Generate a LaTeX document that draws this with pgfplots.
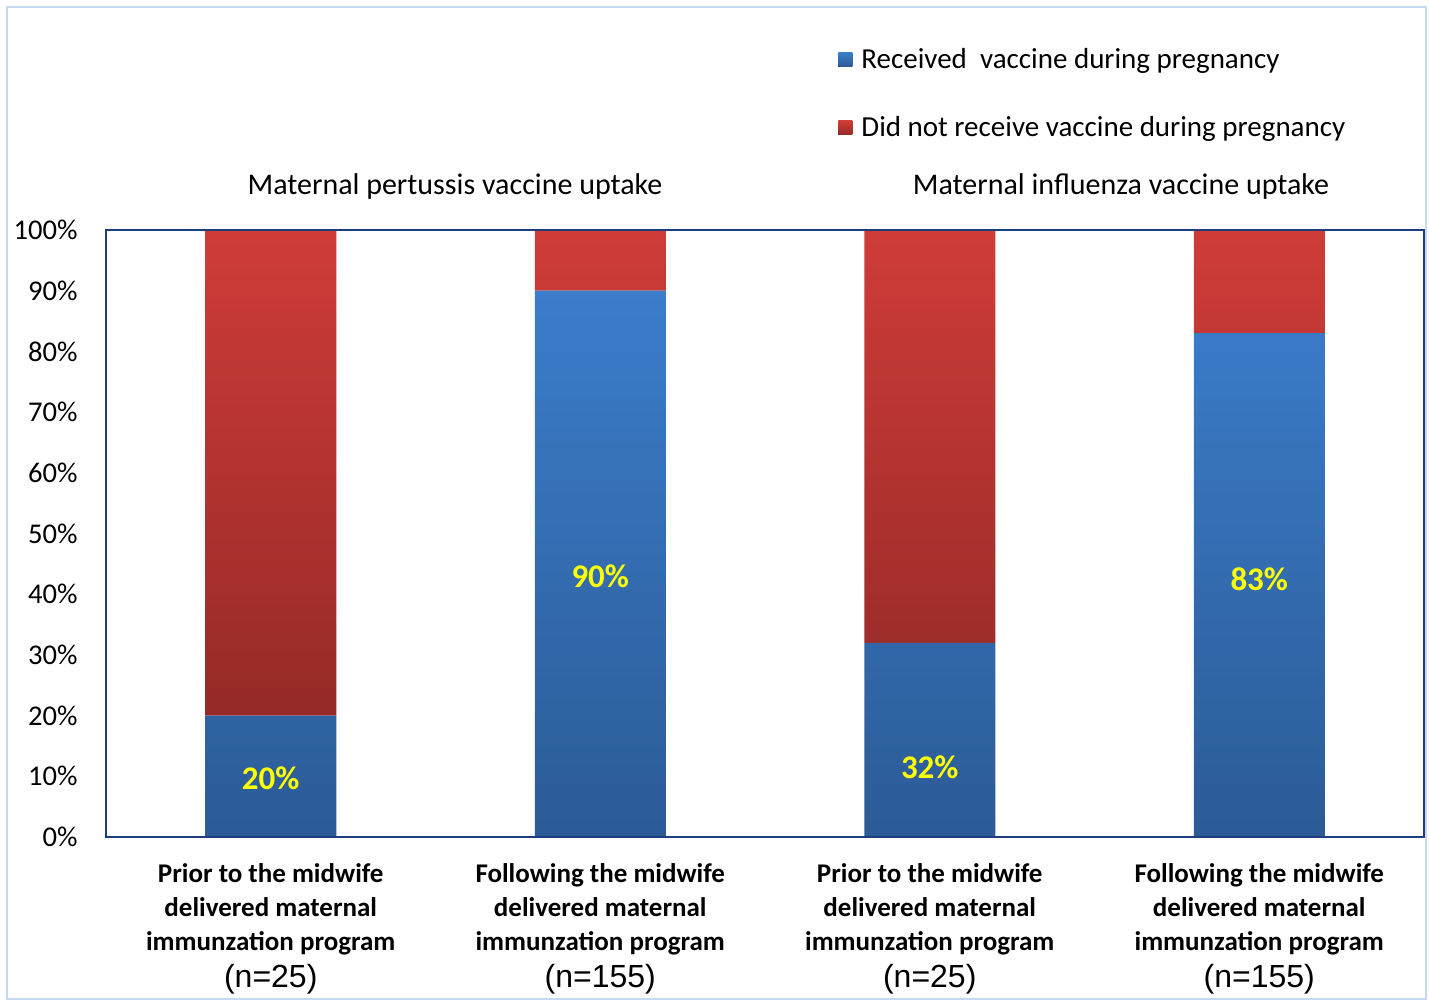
\documentclass[border=0pt]{standalone}
\usepackage{pgfplots}
\pgfplotsset{compat=1.18}
\usepackage{fontspec}
\setmainfont{Carlito}
\newfontfamily\arialf{Liberation Sans}
\definecolor{blueTop}{HTML}{3B7DCB}
\definecolor{blueBot}{HTML}{2C5B96}
\definecolor{redTop}{HTML}{CF3C38}
\definecolor{redBot}{HTML}{952A28}
\definecolor{axisNavy}{HTML}{1F3C7C}
\definecolor{frameBlue}{HTML}{C6D9EF}
\definecolor{labYellow}{HTML}{FFFF00}
\newcommand{\catlab}[2]{{\bfseries #1}\\{\bfseries delivered maternal}\\{\bfseries immunzation program}\\[1.5bp]{\arialf\fontsize{16bp}{19bp}\selectfont (n=#2)}}
\begin{document}
\begin{tikzpicture}
\useasboundingbox (-53bp,-83.5bp) rectangle (661.5bp,418.5bp);
\fill[white] (-53bp,-83.5bp) rectangle (661.5bp,418.5bp);
\draw[frameBlue, line width=1.2bp] (-49.5bp,-81bp) rectangle (660bp,415bp);
\begin{axis}[
  at={(0,0)}, anchor=south west,
  scale only axis, width=659bp, height=303.5bp,
  ybar stacked, bar width=65.5bp,
  xmin=-0.5, xmax=3.5, ymin=0, ymax=100,
  xtick={0,1,2,3},
  xticklabels={{\catlab{Prior to the midwife}{25}},{\catlab{Following the midwife}{155}},{\catlab{Prior to the midwife}{25}},{\catlab{Following the midwife}{155}}},
  xticklabel style={font=\fontsize{13.5bp}{17bp}\selectfont, align=center, anchor=north, inner sep=0pt, yshift=-13bp},
  ytick={0,10,...,100},
  yticklabel={\pgfmathprintnumber{\tick}\%},
  /pgf/number format/assume math mode=true,
  yticklabel style={font=\fontsize{14.3bp}{17bp}\selectfont, anchor=east, inner sep=0pt, xshift=-14bp},
  major tick length=0pt,
  axis line style={axisNavy, line width=1.2bp},
  axis on top,
  clip=false,
  legend style={at={(axis description cs:0.5554,1.307)}, anchor=north west, draw=none, fill=none,
    font=\fontsize{14.5bp}{17bp}\selectfont, row sep=18.5bp, inner sep=0pt,
    nodes={inner xsep=4.5bp}},
  legend cell align=left,
  legend image code/.code={\fill[#1] (0bp,-3.5bp) rectangle (7bp,3.5bp);},
]
\addplot[top color=blueTop, bottom color=blueBot, draw=none] coordinates {(0,20) (1,90) (2,32) (3,83)};
\addlegendentry{Received\ \ vaccine during pregnancy}
\addplot[top color=redTop, bottom color=redBot, draw=none] coordinates {(0,80) (1,10) (2,68) (3,17)};
\addlegendentry{Did not receive vaccine during pregnancy}
\coordinate (l0) at (axis cs:0,9.7);
\coordinate (l1) at (axis cs:1,43);
\coordinate (l2) at (axis cs:2,11.5);
\coordinate (l3) at (axis cs:3,42.5);
\end{axis}
\foreach \c/\t in {l0/20, l1/90, l2/32, l3/83}
  \node[font=\bfseries\fontsize{16.5bp}{19bp}\selectfont, text=labYellow] at (\c) {\t\%};
\node[font=\fontsize{15bp}{18bp}\selectfont] at (174.5bp,325bp) {Maternal pertussis vaccine uptake};
\node[font=\fontsize{15bp}{18bp}\selectfont] at (507.5bp,325bp) {Maternal influenza vaccine uptake};
\end{tikzpicture}
\end{document}
